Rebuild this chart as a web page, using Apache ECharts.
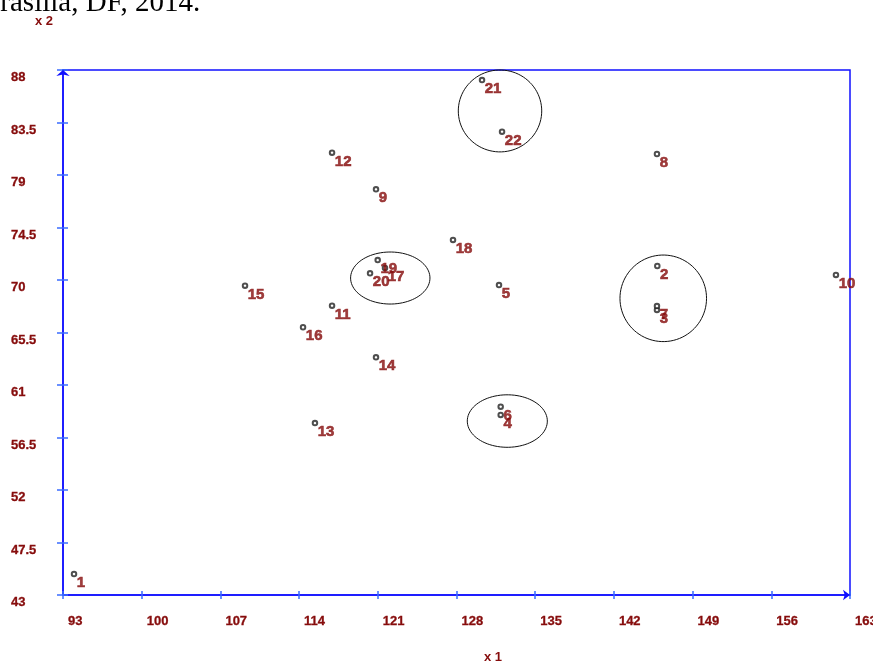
<!DOCTYPE html>
<html>
<head>
<meta charset="utf-8">
<script src="https://cdn.jsdelivr.net/npm/echarts@6/dist/echarts.min.js"></script>
<style>
  html, body { margin: 0; padding: 0; background: #fff; }
  #main { width: 873px; height: 661px; }
</style>
</head>
<body>
<div id="main"></div>
<script>
// axis ranges (ticks start at the minimum, so the axes run on offsets from it)
const x1Min = 93, x1Max = 163, x1Step = 7;
const x2Min = 43, x2Max = 88, x2Step = 4.5;

// points
const pointIds = [1, 2, 3, 4, 5, 6, 7, 8, 9, 10, 11, 12, 13, 14, 15, 16, 17, 18, 19, 20, 21, 22];
const x1Values = [93.98, 145.86, 145.83, 131.93, 131.78, 131.93, 145.83, 145.83, 120.84, 161.75, 116.93,
                  116.93, 115.41, 120.84, 109.19, 114.35, 121.64, 127.69, 120.99, 120.31, 130.27, 132.05];
const x2Values = [44.80, 71.20, 67.43, 58.43, 69.57, 59.14, 67.77, 80.80, 77.77, 70.43, 67.80,
                  80.91, 57.74, 63.37, 69.51, 65.95, 71.03, 73.43, 71.71, 70.57, 87.14, 82.71];

// circled groups: centre and radii in axis units
const groupX1 = [131.87, 122.11, 146.39, 132.52];
const groupX2 = [84.49, 70.17, 68.43, 57.91];
const groupR1 = [3.71, 3.53, 3.85, 3.56];
const groupR2 = [3.51, 2.23, 3.71, 2.25];

const labelRed = '#860c0c';
const axisBlue = '#1010ff';
const tickBlue = '#3a6cff';

const axisLabelStyle = {
  color: labelRed,
  fontFamily: 'Arial',
  fontWeight: 'bold',
  fontSize: 13,
  textBorderColor: labelRed,
  textBorderWidth: 0.3
};

const chart = echarts.init(document.getElementById('main'));

const option = {
  animation: false,
  backgroundColor: '#fff',
  grid: {
    left: 63, right: 23, top: 70, bottom: 66,
    outerBoundsMode: 'none',
    containLabel: false,
    show: true,
    borderColor: axisBlue,
    borderWidth: 1.5
  },
  graphic: [
    {
      type: 'text', left: -19, top: -11, silent: true,
      style: { text: 'Brasília, DF, 2014.', font: '29px "Liberation Serif"', fill: '#000' }
    },
    {
      type: 'text', x: 44, y: 21, silent: true,
      style: { text: 'x 2', font: 'bold 13px Arial', fill: labelRed, align: 'center', verticalAlign: 'middle' }
    },
    {
      type: 'text', x: 493, y: 657, silent: true,
      style: { text: 'x 1', font: 'bold 13px Arial', fill: labelRed, align: 'center', verticalAlign: 'middle' }
    }
  ],
  xAxis: [
    {
      type: 'value',
      min: 0, max: x1Max - x1Min, interval: x1Step,
      axisLine: { show: true, symbol: ['none', 'arrow'], symbolSize: [8, 7], lineStyle: { color: axisBlue, width: 1.5 } },
      axisTick: { show: true, length: 4, lineStyle: { color: tickBlue, width: 1.5 } },
      axisLabel: Object.assign({
        margin: 20, align: 'left', padding: [0, 0, 0, 5],
        showMinLabel: true, showMaxLabel: true,
        formatter: v => String(Math.round(v + x1Min))
      }, axisLabelStyle),
      splitLine: { show: false }
    },
    {
      type: 'value', position: 'bottom',
      min: 0, max: x1Max - x1Min, interval: x1Step,
      axisLine: { show: false },
      axisTick: { show: true, inside: true, length: 4, lineStyle: { color: tickBlue, width: 1.5 } },
      axisLabel: { show: false },
      splitLine: { show: false }
    }
  ],
  yAxis: [
    {
      type: 'value',
      min: 0, max: x2Max - x2Min, interval: x2Step,
      axisLine: { show: true, symbol: ['none', 'arrow'], symbolSize: [10, 6], lineStyle: { color: axisBlue, width: 1.5 } },
      axisTick: { show: true, length: 6, lineStyle: { color: tickBlue, width: 1.5 } },
      axisLabel: Object.assign({
        margin: 52, align: 'left', verticalAlign: 'top', padding: [1, 0, 0, 0],
        showMinLabel: true, showMaxLabel: true,
        formatter: v => String(Math.round((v + x2Min) * 10) / 10)
      }, axisLabelStyle),
      splitLine: { show: false }
    },
    {
      type: 'value', position: 'left',
      min: 0, max: x2Max - x2Min, interval: x2Step,
      axisLine: { show: false },
      axisTick: { show: true, inside: true, length: 5, lineStyle: { color: tickBlue, width: 1.5 } },
      axisLabel: { show: false },
      splitLine: { show: false }
    }
  ],
  series: [
    {
      type: 'custom',
      silent: true,
      z: 1,
      encode: { x: 0, y: 1 },
      data: groupX1.map((c, i) => [c - x1Min, groupX2[i] - x2Min, groupR1[i], groupR2[i]]),
      renderItem: function (params, api) {
        const cx = api.value(0), cy = api.value(1);
        const r1 = api.value(2), r2 = api.value(3);
        const pts = [];
        for (let k = 0; k < 90; k++) {
          const t = k / 90 * Math.PI * 2;
          pts.push(api.coord([cx + r1 * Math.cos(t), cy + r2 * Math.sin(t)]));
        }
        return {
          type: 'polygon',
          shape: { points: pts },
          style: { fill: 'none', stroke: '#111', lineWidth: 1 }
        };
      }
    },
    {
      type: 'scatter',
      z: 3,
      symbol: 'emptyCircle',
      symbolSize: 4.5,
      itemStyle: { color: '#222', borderColor: '#222', borderWidth: 1 },
      data: pointIds.map((id, i) => [x1Values[i] - x1Min, x2Values[i] - x2Min, id]),
      label: {
        show: true,
        position: [6, 12],
        align: 'left',
        verticalAlign: 'middle',
        formatter: p => String(p.value[2]),
        color: labelRed,
        fontFamily: 'Arial',
        fontWeight: 'bold',
        fontSize: 15,
        textBorderColor: labelRed,
        textBorderWidth: 0.6
      },
      emphasis: { disabled: true }
    }
  ]
};

chart.setOption(option);
</script>
</body>
</html>
